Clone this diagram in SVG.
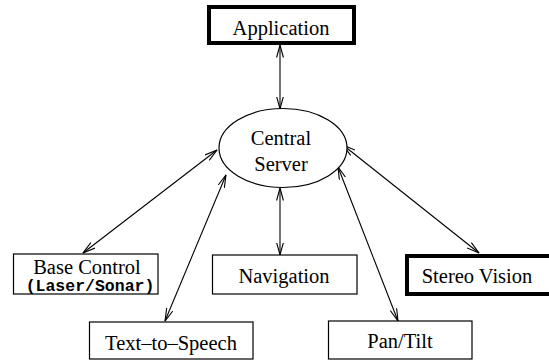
<svg xmlns="http://www.w3.org/2000/svg" width="549" height="362" viewBox="0 0 549 362">
<style>
.box{fill:#fff;stroke:#000;stroke-width:1.2}
.thick{fill:#fff;stroke:#000;stroke-width:4}
.lbl{font-family:"Liberation Serif","Times New Roman",serif;font-size:20.5px;fill:#000;text-anchor:middle}
.mono{font-family:"Liberation Mono","Courier New",monospace;font-size:16.5px;font-weight:bold;fill:#000;text-anchor:middle}
.conn{stroke:#000;stroke-width:1.1;fill:none;marker-start:url(#ah);marker-end:url(#ah)}
</style>
<defs>
<marker id="ah" viewBox="0 0 13 8" refX="12.5" refY="4" markerWidth="13" markerHeight="8" markerUnits="userSpaceOnUse" orient="auto-start-reverse">
<path d="M0,0.6 L12.5,4 L0,7.4" fill="none" stroke="#000" stroke-width="1.1"/>
</marker>
</defs>
<rect width="549" height="362" fill="#fff"/>
<g id="connectors">
<line class="conn" x1="280" y1="45" x2="280" y2="109"/>
<line class="conn" x1="217" y1="150" x2="83" y2="253"/>
<line class="conn" x1="226" y1="175" x2="165" y2="321"/>
<line class="conn" x1="280" y1="188" x2="280" y2="255"/>
<line class="conn" x1="338" y1="167" x2="398" y2="321"/>
<line class="conn" x1="343" y1="145" x2="479" y2="253"/>
</g>
<g id="application">
<rect class="thick" x="209" y="7" width="145" height="36"/>
<text class="lbl" x="281" y="35">Application</text>
</g>
<g id="central-server">
<ellipse cx="283" cy="148" rx="64" ry="39.5" fill="#fff" stroke="#000" stroke-width="1.2"/>
<text class="lbl" x="281" y="145">Central</text>
<text class="lbl" x="281" y="171">Server</text>
</g>
<g id="base-control">
<rect class="box" x="13.5" y="254" width="144.5" height="40"/>
<text class="lbl" x="87" y="274">Base Control</text>
<text class="mono" x="90" y="291">(Laser/Sonar)</text>
</g>
<g id="text-to-speech">
<rect class="box" x="89.5" y="322" width="163.5" height="37"/>
<text class="lbl" x="171" y="350">Text–to–Speech</text>
</g>
<g id="navigation">
<rect class="box" x="212.5" y="255" width="144.5" height="39"/>
<text class="lbl" x="284" y="283">Navigation</text>
</g>
<g id="pan-tilt">
<rect class="box" x="328.5" y="321" width="143.5" height="38"/>
<text class="lbl" x="400" y="348">Pan/Tilt</text>
</g>
<g id="stereo-vision">
<rect class="thick" x="407" y="256" width="145" height="38"/>
<text class="lbl" x="477" y="283">Stereo Vision</text>
</g>
</svg>
